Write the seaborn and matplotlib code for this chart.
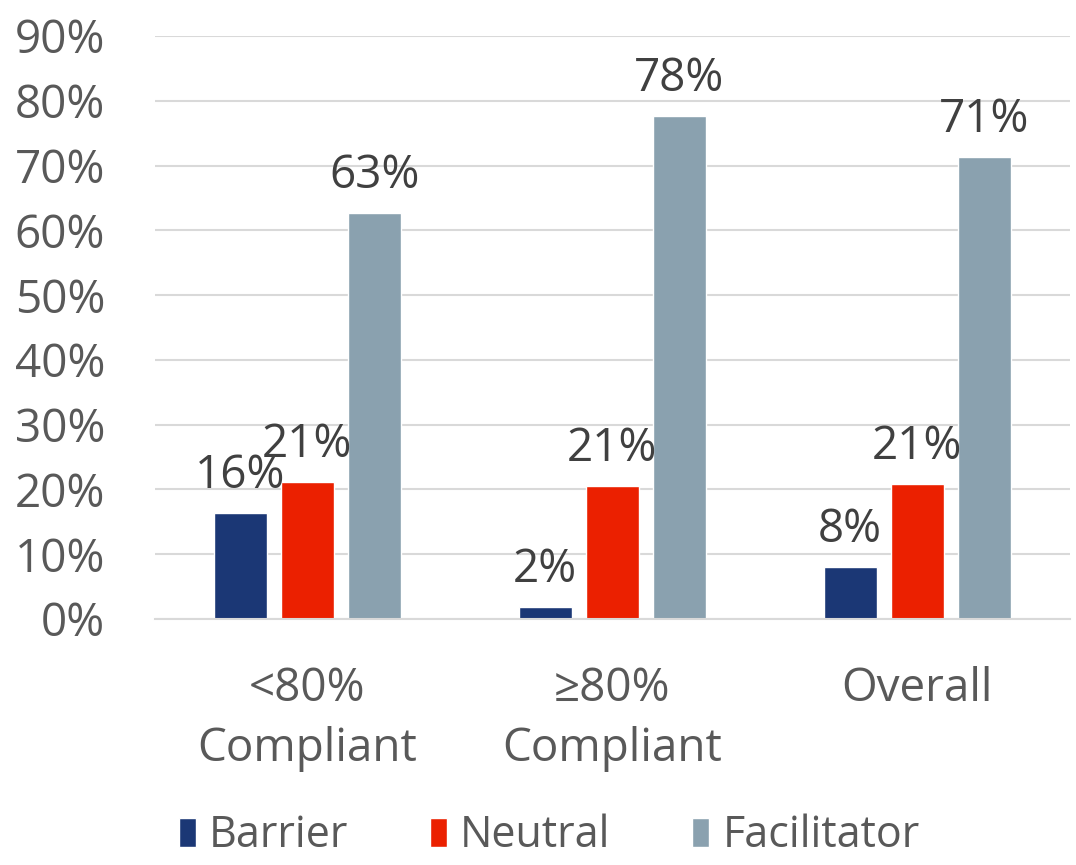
import matplotlib
matplotlib.use("Agg")
import matplotlib.pyplot as plt
import seaborn as sns
import pandas as pd

# Compliance groups and the share of responses in each rating
groups = ["<80%\nCompliant", "\u226580%\nCompliant", "Overall"]
ratings = ["Barrier", "Neutral", "Facilitator"]
barrier = [16.4, 1.8, 8.1]
neutral = [21.1, 20.6, 20.8]
facilitator = [62.7, 77.6, 71.3]
colors = ["#1B3775", "#EB2000", "#8AA1AF"]

df = pd.DataFrame({
    "group": groups * 3,
    "rating": [r for r in ratings for _ in groups],
    "value": barrier + neutral + facilitator,
})

sns.set_theme(style="white")
plt.rcParams["font.family"] = ["Open Sans", "DejaVu Sans"]

FS = 33

fig = plt.figure(figsize=(10.76, 8.65), dpi=100)
ax = fig.add_axes([0.144, 0.2844, 0.85, 0.6740])

sns.barplot(data=df, x="group", y="value", hue="rating", order=groups,
            hue_order=ratings, palette=colors, width=0.66, gap=0.21,
            saturation=1, ax=ax, legend=True)

ax.set_ylim(0, 90)
ax.set_xlim(-0.5, 2.5)
ax.set_yticks(range(0, 91, 10))
ax.set_yticklabels([f"{v}%" for v in range(0, 91, 10)])
ax.yaxis.grid(True, color="#D9D9D9", linewidth=1.5)
ax.set_axisbelow(True)
for s in ["left", "right", "top"]:
    ax.spines[s].set_visible(False)
ax.spines["bottom"].set_color("#D9D9D9")
ax.spines["bottom"].set_linewidth(1.5)
ax.tick_params(axis="both", length=0, labelsize=FS, labelcolor="#595959")
ax.tick_params(axis="y", pad=36)
ax.tick_params(axis="x", pad=34)
for t in ax.get_xticklabels():
    t.set_linespacing(1.38)
ax.set_xlabel("")
ax.set_ylabel("")

for cont in ax.containers:
    ax.bar_label(cont, labels=[f"{v:.0f}%" for v in cont.datavalues],
                 padding=10, fontsize=FS, color="#404040")

handles, labels = ax.get_legend_handles_labels()
leg = ax.legend(handles, labels, loc="center", bbox_to_anchor=(0.431, -0.372),
                ncol=3, frameon=False, fontsize=31, labelcolor="#595959",
                handlelength=0.4, handleheight=0.66, handletextpad=0.3,
                columnspacing=1.9, borderpad=0.1)

fig.savefig("out.png", dpi=100)
